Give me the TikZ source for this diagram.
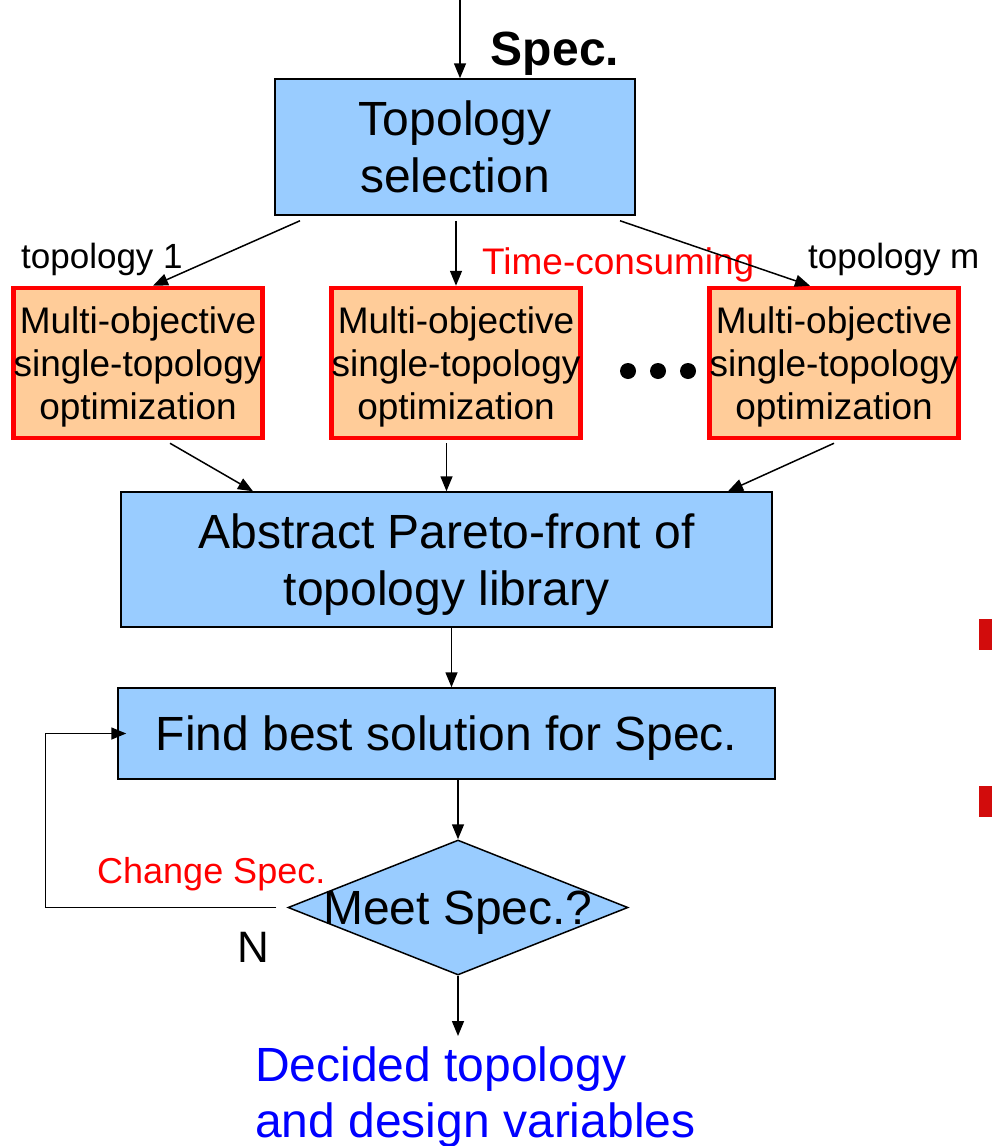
\documentclass[tikz,border=0pt]{standalone}
\usepackage{fontspec}
\setmainfont{Liberation Sans}
\usetikzlibrary{arrows.meta, shapes.geometric}

\definecolor{boxblue}{RGB}{153,204,255}
\definecolor{boxorange}{RGB}{255,204,153}
\definecolor{tagred}{RGB}{210,12,12}

\tikzset{
  arr/.style={-{Triangle[length=15pt,width=12pt]}, line width=1.5pt},
  lbl/.style={inner sep=0pt, anchor=base west},
  bluebox/.style={draw, line width=1.5pt, fill=boxblue, align=center, inner sep=0pt,
    text depth=0pt, font=\fontsize{48}{57}\selectfont},
  optbox/.style={draw=red, line width=4.5pt, fill=boxorange, align=center, inner sep=0pt,
    text depth=0pt, minimum width=246pt, minimum height=150pt, font=\fontsize{37}{43}\selectfont},
  decision/.style={diamond, draw, line width=1.5pt, fill=boxblue, inner sep=0pt, text depth=0pt,
    minimum width=340pt, minimum height=135pt, font=\fontsize{48}{57}\selectfont},
}

\begin{document}
\begin{tikzpicture}[x=1pt, y=-1pt]
  \useasboundingbox (0,0) rectangle (992,1146);
  \coordinate (in) at (460,0);
  \coordinate (out) at (458,1036);

  % flow boxes
  \node[bluebox, minimum width=360pt, minimum height=136pt] (topo) at (455,147) {Topology\\selection};
  \foreach \i/\x in {1/138, 2/456, 3/834}
    \node[optbox] (opt\i) at (\x,363) {Multi-objective\\single-topology\\optimization};
  \node[bluebox, minimum width=651pt, minimum height=135pt] (pareto) at (446.5,559.5) {Abstract Pareto-front of\\topology library};
  \node[bluebox, minimum width=657pt, minimum height=91pt] (find) at (446.5,733.5) {Find best solution for Spec.};
  \node[decision] (meet) at (458,907.5) {\makebox[0pt]{Meet Spec.?}};

  % labels
  \node[inner sep=0pt, anchor=base, font=\fontsize{48}{57}\selectfont\bfseries] (spec) at (555,65) {Spec.};
  \node[lbl, font=\fontsize{35}{40}\selectfont] (top1) at (21,268) {topology 1};
  \node[lbl, font=\fontsize{35}{40}\selectfont] (topm) at (808,268) {topology m};
  \node[lbl, text=red, font=\fontsize{37}{42}\selectfont] (slow) at (482,274) {Time-consuming};
  \node[lbl, text=red, font=\fontsize{36}{41}\selectfont] (chg) at (97,883) {Change Spec.};
  \node[lbl, font=\fontsize{44}{50}\selectfont] (no) at (237,962) {N};
  \node[inner sep=0pt, anchor=north west, align=left, text=blue, font=\fontsize{48}{56}\selectfont] (result) at (255,1047) {Decided topology\\and design variables};

  % dots between the optimizers
  \foreach \x in {628,658,688}
    \fill (\x,371) circle (8pt);

  % connectors
  \draw[arr] (in) -- (in |- topo.north);
  \draw[arr] ([xshift=-155pt,yshift=-5pt]topo.south) -- ([xshift=15pt]opt1.north);
  \draw[arr, shorten <=5pt] (topo.south -| opt2.north) -- (opt2.north);
  \draw[arr] ([xshift=165pt,yshift=-5pt]topo.south) -- ([xshift=-24pt]opt3.north);
  \draw[arr] ([xshift=32pt,yshift=-3pt]opt1.south) -- ([xshift=-193.5pt]pareto.north);
  \draw[arr, shorten <=3pt] (opt2.south -| pareto.north) -- (pareto.north);
  \draw[arr] ([yshift=-3pt]opt3.south) -- ([xshift=281.5pt]pareto.north);
  \draw[arr] ([xshift=5pt]pareto.south) -- ([xshift=5pt]find.north);
  \draw[arr] (find.south -| meet.north) -- (meet.north);
  \draw[arr] (meet.south) -- (out);
  \draw[arr] ([xshift=-11pt]meet.west) -- ++(-231,0) |- ([xshift=9pt]find.west);

  % marks on the right edge
  \fill[tagred] (979,619) rectangle (992,650);
  \fill[tagred] (979,786) rectangle (992,817);
\end{tikzpicture}
\end{document}
